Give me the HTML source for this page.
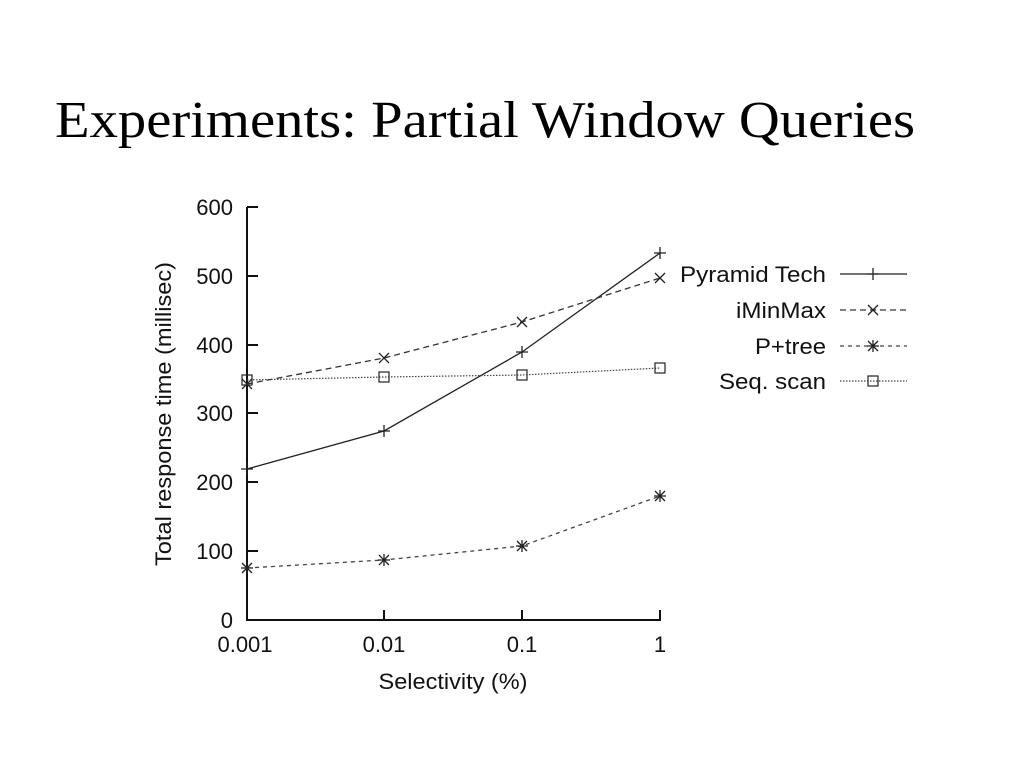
<!DOCTYPE html>
<html><head><style>
html,body{margin:0;padding:0;background:#fff;width:1024px;height:768px;overflow:hidden}
</style></head><body>
<svg width="1024" height="768" xmlns="http://www.w3.org/2000/svg">
<defs>
<g id="plus"><path d="M-6,0H6M0,-6V6" stroke="#222" stroke-width="1.3"/></g>
<g id="cross"><path d="M-5,-5L5,5M-5,5L5,-5" stroke="#222" stroke-width="1.3"/></g>
<g id="star"><path d="M-6,0H6M0,-6V6M-5,-5L5,5M-5,5L5,-5" stroke="#222" stroke-width="1.3"/></g>
<g id="sq"><rect x="-5" y="-5" width="10" height="10" fill="none" stroke="#222" stroke-width="1.2"/></g>
</defs>
<text x="55" y="137" font-family="Liberation Serif, serif" font-size="52" textLength="860" lengthAdjust="spacingAndGlyphs" fill="#000">Experiments: Partial Window Queries</text>
<g font-family="Liberation Sans, sans-serif" font-size="22" fill="#111">
<path d="M247,207V620H661" fill="none" stroke="#111" stroke-width="2"/>
<g stroke="#111" stroke-width="2">
<path d="M247,207h11M247,276h11M247,345h11M247,413h11M247,482h11M247,551h11"/>
<path d="M384,620v-10M522,620v-10M660,620v-10"/>
</g>
<g text-anchor="end">
<text x="233" y="215">600</text><text x="233" y="284">500</text><text x="233" y="353">400</text>
<text x="233" y="421">300</text><text x="233" y="490">200</text><text x="233" y="559">100</text><text x="233" y="628">0</text>
</g>
<g text-anchor="middle">
<text x="245" y="652">0.001</text><text x="384" y="652">0.01</text><text x="522" y="652">0.1</text><text x="660" y="652">1</text>
<text x="453" y="689" textLength="149" lengthAdjust="spacingAndGlyphs">Selectivity (%)</text>
<text transform="translate(171,414) rotate(-90)" textLength="304" lengthAdjust="spacingAndGlyphs">Total response time (millisec)</text>
</g>
<polyline points="247,469 384,431 522,352 660,253" fill="none" stroke="#222" stroke-width="1.3"/>
<polyline points="247,384 384,358 522,322 660,278" fill="none" stroke="#333" stroke-width="1.3" stroke-dasharray="6,4"/>
<polyline points="247,568 384,560 522,546 660,496" fill="none" stroke="#444" stroke-width="1.3" stroke-dasharray="4,4"/>
<polyline points="247,380 384,377 522,375 660,368" fill="none" stroke="#444" stroke-width="1.2" stroke-dasharray="1.5,1.5"/>
<use href="#plus" x="247" y="469"/><use href="#plus" x="384" y="431"/><use href="#plus" x="522" y="352"/><use href="#plus" x="660" y="253"/>
<use href="#cross" x="247" y="384"/><use href="#cross" x="384" y="358"/><use href="#cross" x="522" y="322"/><use href="#cross" x="660" y="278"/>
<use href="#star" x="247" y="568"/><use href="#star" x="384" y="560"/><use href="#star" x="522" y="546"/><use href="#star" x="660" y="496"/>
<use href="#sq" x="247" y="380"/><use href="#sq" x="384" y="377"/><use href="#sq" x="522" y="375"/><use href="#sq" x="660" y="368"/>
<g text-anchor="end">
<text x="826" y="282" textLength="146" lengthAdjust="spacingAndGlyphs">Pyramid Tech</text>
<text x="826" y="318" textLength="90" lengthAdjust="spacingAndGlyphs">iMinMax</text>
<text x="826" y="354" textLength="71" lengthAdjust="spacingAndGlyphs">P+tree</text>
<text x="826" y="389" textLength="107" lengthAdjust="spacingAndGlyphs">Seq. scan</text>
</g>
<path d="M840,274H907" stroke="#222" stroke-width="1.3"/><use href="#plus" x="873" y="274"/>
<path d="M840,310H907" stroke="#333" stroke-width="1.3" stroke-dasharray="6,4"/><use href="#cross" x="873" y="310"/>
<path d="M840,346H907" stroke="#444" stroke-width="1.3" stroke-dasharray="4,4"/><use href="#star" x="873" y="346"/>
<path d="M840,381H907" stroke="#444" stroke-width="1.2" stroke-dasharray="1.5,1.5"/><use href="#sq" x="873" y="381"/>
</g>
</svg>
</body></html>
